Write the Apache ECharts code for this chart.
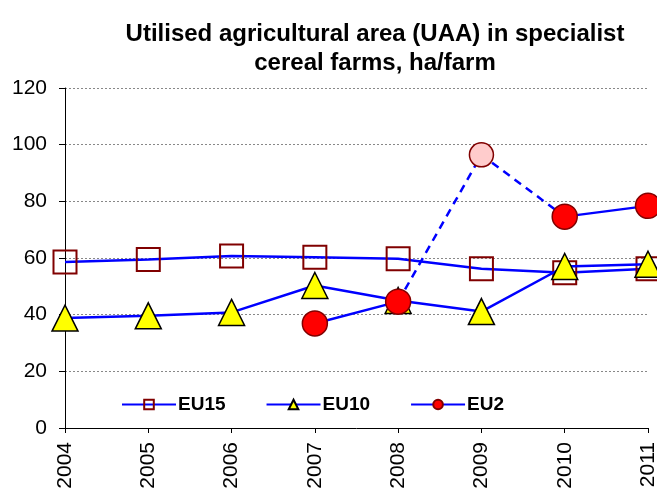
<!DOCTYPE html>
<html>
<head>
<meta charset="utf-8">
<script src="https://cdn.jsdelivr.net/npm/echarts@6/dist/echarts.min.js"></script>
<style>
  html, body { margin: 0; padding: 0; background: #fff; }
  #main { width: 657px; height: 488px; }
</style>
</head>
<body>
<div id="main"></div>
<script>
// 数据
var years = ['2004', '2005', '2006', '2007', '2008', '2009', '2010', '2011'];
var eu15 = [58.6, 59.5, 60.7, 60.3, 59.7, 56.2, 54.8, 56.2];
var eu10 = [38.8, 39.6, 40.8, 50.3, 45.0, 41.1, 57.0, 57.8];
var eu2 = [null, null, null, 36.9, 44.6, null, 74.6, 78.4];
// 2009 estimate, drawn dashed
var eu2Est = [null, null, null, null, 44.6, 96.4, 74.6, null];
var yTicks = [0, 20, 40, 60, 80, 100, 120];

var font = 'Arial, "Liberation Sans", sans-serif';
var myChart = echarts.init(document.getElementById('main'));

myChart.setOption({
  animation: false,
  title: {
    text: 'Utilised agricultural area (UAA) in specialist\ncereal farms, ha/farm',
    left: 370,
    textAlign: 'center',
    top: 15,
    textStyle: { fontFamily: font, fontSize: 24, fontWeight: 'bold', color: '#000', lineHeight: 29 }
  },
  legend: {
    left: 116,
    top: 390,
    itemWidth: 54,
    itemHeight: 12,
    itemGap: 40,
    data: ['EU15', 'EU10', 'EU2'],
    textStyle: { fontFamily: font, fontSize: 19, fontWeight: 'bold', color: '#000', padding: [0, 0, 0, -3] }
  },
  grid: { left: 65, right: 9, top: 88, bottom: 60, outerBoundsMode: 'none', containLabel: false },
  xAxis: {
    type: 'category',
    boundaryGap: false,
    data: years,
    axisLine: { lineStyle: { color: '#000', width: 1 } },
    axisTick: { show: true, length: 5, lineStyle: { color: '#000' } },
    axisLabel: { rotate: 90, fontFamily: font, fontSize: 21, color: '#000', margin: 14 },
    splitLine: { show: false }
  },
  yAxis: {
    type: 'value',
    min: yTicks[0],
    max: yTicks[yTicks.length - 1],
    interval: 20,
    axisLine: { show: true, lineStyle: { color: '#000', width: 1 } },
    axisTick: { show: true, length: 6, lineStyle: { color: '#000' } },
    axisLabel: { fontFamily: font, fontSize: 21, color: '#000', margin: 18 },
    splitLine: { lineStyle: { color: '#888', type: [2, 2], width: 1 } }
  },
  series: [
    {
      name: 'EU2 est',
      type: 'line',
      data: eu2Est,
      symbol: 'circle',
      symbolSize: function (v, p) { return p.dataIndex === 5 ? 24 : 0; },
      showSymbol: true,
      lineStyle: { color: '#0000ff', width: 2.5, type: [8, 6] },
      itemStyle: { color: '#ffcccc', borderColor: '#800000', borderWidth: 1.5 },
      z: 2
    },
    {
      name: 'EU15',
      type: 'line',
      data: eu15,
      symbol: 'rect',
      symbolSize: 23,
      lineStyle: { color: '#0000ff', width: 2.5 },
      itemStyle: { color: 'rgba(255,255,255,0)', borderColor: '#800000', borderWidth: 2 },
      z: 3
    },
    {
      name: 'EU10',
      type: 'line',
      data: eu10,
      symbol: 'triangle',
      symbolSize: 26,
      lineStyle: { color: '#0000ff', width: 2.5 },
      itemStyle: { color: '#ffff00', borderColor: '#000', borderWidth: 1.5 },
      z: 4
    },
    {
      name: 'EU2',
      type: 'line',
      data: eu2,
      connectNulls: false,
      symbol: 'circle',
      symbolSize: 25,
      lineStyle: { color: '#0000ff', width: 2.5 },
      itemStyle: { color: '#ff0000', borderColor: '#800000', borderWidth: 1.5 },
      z: 5
    }
  ]
});
</script>
</body>
</html>
